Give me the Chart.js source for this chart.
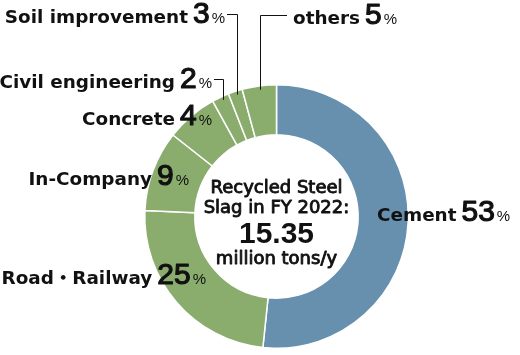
<!DOCTYPE html>
<html><head><meta charset="utf-8">
<script src="https://cdn.jsdelivr.net/npm/chart.js@4/dist/chart.umd.min.js"></script>
<style>html,body{margin:0;padding:0;background:#fff;} #wrap{width:520px;height:355px;position:relative}</style>
</head><body><div id="wrap"><canvas id="c" width="520" height="355"></canvas></div>
<script>
// ---- data ----
const categories = ["Cement", "Road・Railway", "In-Company", "Concrete", "Civil engineering", "Soil improvement", "others"];
const shares = [51.7, 24.1, 9.9, 6.35, 2.1, 1.75, 4.2];          // arc sizes as drawn in the picture
const percentLabels = ["53", "25", "9", "4", "2", "3", "5"];     // printed percentages
const centerLines = ["Recycled Steel", "Slag in FY 2022:", "15.35", "million tons/y"];

// ---- styles / layout ----
const BLUE = "#6690AE", GREEN = "#8AAD6E";
const sliceColors = [BLUE, GREEN, GREEN, GREEN, GREEN, GREEN, GREEN];
const NAME_FONT = "bold 18.4px 'DejaVu Sans', 'Noto Sans CJK JP', sans-serif";
const NUM_FONT = "30px 'Liberation Sans', Arial, sans-serif";
const PCT_FONT = "15px 'Liberation Sans', Arial, sans-serif";
const CENTER_FONT = "18px 'DejaVu Sans', sans-serif";
const BIG_FONT = "bold 30px 'Liberation Sans', Arial, sans-serif";
// label anchors: align, x edge, baseline, leader?
const labelLayout = [
  {align: "left", x: 377, y: 221},
  {align: "right", x: 206, y: 284},
  {align: "right", x: 189, y: 185},
  {align: "right", x: 212, y: 125},
  {align: "right", x: 212, y: 88, leader: true},
  {align: "right", x: 225, y: 23, leader: true},
  {align: "left", x: 293, y: 24, leader: true}
];
const centerBaselines = [193, 213, 243, 264];

const labelPlugin = {
  id: "labels",
  afterDraw(chart) {
    const ctx = chart.ctx;
    const meta = chart.getDatasetMeta(0);
    ctx.save();
    ctx.fillStyle = "#111";
    ctx.strokeStyle = "#111";
    ctx.lineJoin = "round";
    ctx.textBaseline = "alphabetic";
    const arc0 = meta.data[0];
    const cx = arc0.x, cy = arc0.y, R = arc0.outerRadius;
    // center text
    ctx.textAlign = "center";
    centerLines.forEach((t, k) => {
      ctx.font = k === 2 ? BIG_FONT : CENTER_FONT;
      ctx.fillText(t, cx, centerBaselines[k]);
      if (k !== 2) { ctx.lineWidth = 0.9; ctx.strokeText(t, cx, centerBaselines[k]); }
    });
    ctx.textAlign = "left";
    categories.forEach((name, i) => {
      const L = labelLayout[i];
      const parts = [
        {t: name, f: NAME_FONT, gap: 5, s: 0},
        {t: percentLabels[i], f: NUM_FONT, gap: 2, s: 1.2},
        {t: "%", f: PCT_FONT, gap: 0, s: 0}
      ];
      let total = 0;
      parts.forEach(p => { ctx.font = p.f; p.w = ctx.measureText(p.t).width; total += p.w + p.gap; });
      let x = L.align === "right" ? L.x - total : L.x;
      const left = x, right = x + total;
      parts.forEach(p => {
        ctx.font = p.f;
        ctx.fillText(p.t, x, L.y);
        if (p.s) { ctx.lineWidth = p.s; ctx.strokeText(p.t, x, L.y); }
        x += p.w + p.gap;
      });
      if (L.leader) {
        const a = meta.data[i];
        const mid = (a.startAngle + a.endAngle) / 2;
        const lx = Math.round(cx + Math.cos(mid) * 125) + 0.5;
        const dx = lx - cx;
        const ey = cy - Math.sqrt(R * R - dx * dx) + 4;
        const ly = Math.round(L.y - 9) + 0.5;
        const sx = L.align === "right" ? right + 2 : left - 6;
        ctx.lineWidth = 1;
        ctx.beginPath();
        ctx.moveTo(sx, ly);
        ctx.lineTo(lx, ly);
        ctx.lineTo(lx, ey);
        ctx.stroke();
      }
    });
    ctx.restore();
  }
};

new Chart(document.getElementById("c"), {
  type: "doughnut",
  data: {
    labels: categories,
    datasets: [{data: shares, backgroundColor: sliceColors, borderColor: "#fff", borderWidth: 1.5, hoverOffset: 0}]
  },
  options: {
    responsive: false,
    animation: false,
    cutout: "62%",
    rotation: 0,
    layout: {padding: {left: 144, right: 111, top: 84, bottom: 6}},
    plugins: {legend: {display: false}, tooltip: {enabled: false}}
  },
  plugins: [labelPlugin]
});
</script>
</body></html>
